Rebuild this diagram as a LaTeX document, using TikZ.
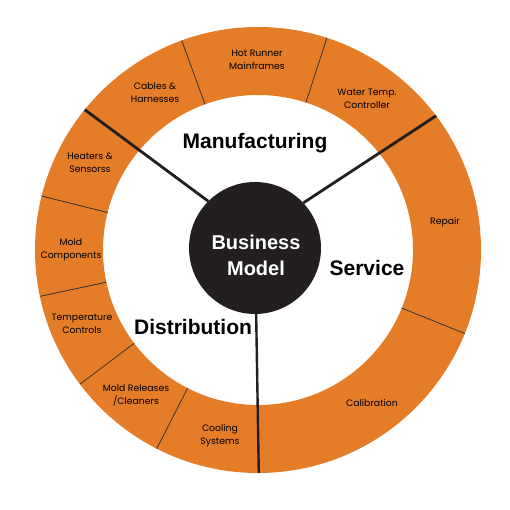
\documentclass[tikz,border=0pt]{standalone}
\usepackage{fontspec}
\setmainfont{Liberation Sans}
\newfontfamily\labelfont{Poppins}
\usetikzlibrary{calc}
\definecolor{ringorange}{RGB}{229,124,39}
\definecolor{hubblack}{RGB}{35,31,32}
\begin{document}
\begin{tikzpicture}[x=1pt,y=1pt,
  seglabel/.style={font=\labelfont\fontsize{9.3}{12.8}\selectfont, align=center, text=black, inner sep=0pt},
  sectorlabel/.style={font=\bfseries\fontsize{21}{21}\selectfont, text=black, inner sep=0pt},
  thindiv/.style={draw=black!80, line width=0.8pt},
  thickdiv/.style={draw=hubblack, line width=2.8pt}]
\useasboundingbox (0,0) rectangle (510,510);
\coordinate (C) at (258,260);
% ring
\fill[ringorange, even odd rule] (C) circle[radius=223] (C) circle[radius=155];
% thin dividers
\foreach \a in {72,110,166,192,217,243,338}
  \draw[thindiv] ($(C)+(\a:155)$) -- ($(C)+(\a:223)$);
% hub
\node[circle, fill=hubblack, minimum size=132, inner sep=0pt] (bm) at (255,262) {};
\coordinate (oUL) at ($(C)+(141:223)$);
\coordinate (oUR) at ($(C)+(37:223)$);
\coordinate (oB) at ($(C)+(270.2:223)$);
\draw[thickdiv] (bm.135.6) -- (oUL);
\draw[thickdiv] (bm.43.8) -- (oUR);
\draw[thickdiv, line width=2.4pt] (bm.271.6) -- (oB);
\node[font=\bfseries\fontsize{20}{26}\selectfont, text=white, align=center, inner sep=0pt] (bmtext) at (256,255) {Business\\Model};
% sector labels
\node[sectorlabel] (manu) at (255,367) {Manufacturing};
\node[sectorlabel] (serv) at (367,242) {Service};
\node[sectorlabel] (dist) at (193,183) {Distribution};
% segment labels
\node[seglabel] (hot) at (257,450.5) {Hot Runner\\Mainframes};
\node[seglabel] (cab) at (155,417) {Cables \&\\Harnesses};
\node[seglabel] (wat) at (367,411.5) {Water Temp.\\Controller};
\node[seglabel] (hea) at (90,347) {Heaters \&\\Sensorss};
\node[seglabel] (mol) at (71,260.5) {Mold\\Components};
\node[seglabel] (tem) at (82,186) {Temperature\\Controls};
\node[seglabel] (rel) at (136,114.5) {Mold Releases\\/Cleaners};
\node[seglabel] (coo) at (220,74.5) {Cooling\\Systems};
\node[seglabel] (rep) at (445,288) {Repair};
\node[seglabel] (cal) at (372,107) {Calibration};
\end{tikzpicture}
\end{document}
